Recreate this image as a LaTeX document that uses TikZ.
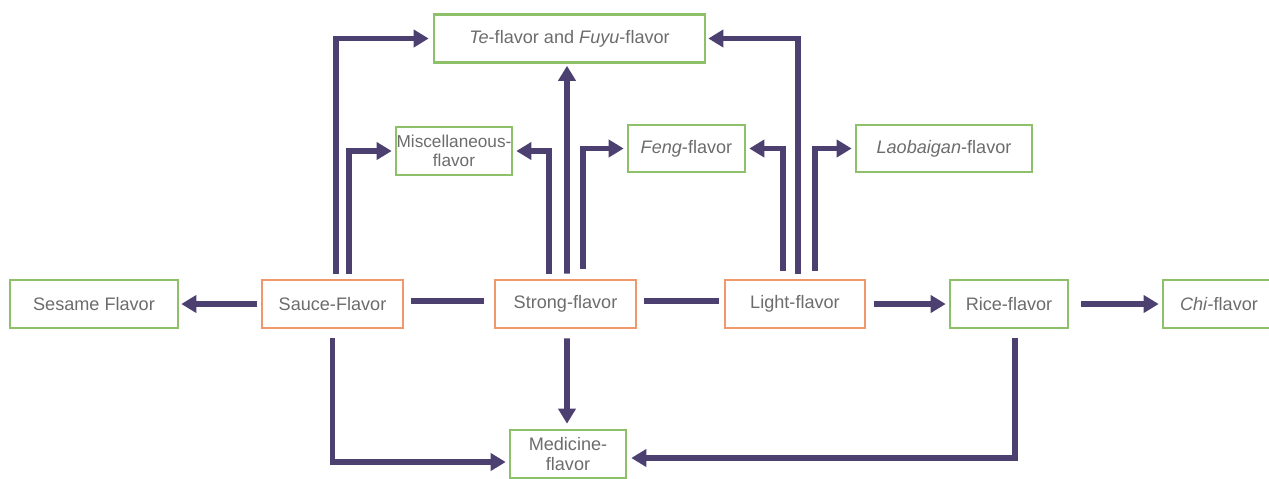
\documentclass[tikz,border=0pt]{standalone}
\usepackage{fontspec}
\setmainfont{Liberation Sans}
\usetikzlibrary{arrows.meta}
\definecolor{boxgreen}{RGB}{141,192,104}
\definecolor{boxorange}{RGB}{240,152,108}
\definecolor{flowpurple}{RGB}{76,64,112}
\definecolor{labelgray}{RGB}{108,108,108}

\begin{document}
\begin{tikzpicture}[x=0.02cm, y=-0.02cm,
    base/.style={draw, line width=1.5pt, text=labelgray, font=\fontsize{10.3}{11.3}\selectfont,
      align=center, minimum height=0.96cm, inner sep=0pt},
    main/.style={base, draw=boxorange},
    sub/.style={base, draw=boxgreen},
    flow/.style={draw=flowpurple, line width=3.2pt, -{Triangle[length=0.3cm, width=0.34cm]}},
    link/.style={draw=flowpurple, line width=3.2pt}]
  \useasboundingbox (0,0) rectangle (1269,478);
  % main flavors
  \node[main, minimum width=2.82cm] (sauce) at (332.5,304) {Sauce-Flavor};
  \node[main, minimum width=2.82cm] (strong) at (565.5,304) {Strong-flavor};
  \node[main, minimum width=2.8cm] (light) at (795,304) {Light-flavor};
  % derived flavors
  \node[sub, minimum width=3.36cm] (sesame) at (94,304) {Sesame Flavor};
  \node[sub, minimum width=2.36cm] (rice) at (1009,304) {Rice-flavor};
  \node[sub, minimum width=2.24cm] (chi) at (1219,304) {\textit{Chi}-flavor};
  \node[sub, minimum width=5.42cm] (te) at (569.5,38.5) {\textit{Te}-flavor and \textit{Fuyu}-flavor};
  \node[sub, minimum width=2.32cm, text width=2.32cm,
    font=\fontsize{9.8}{11}\selectfont] (misc) at (454,151) {Miscellaneous-\\flavor};
  \node[sub, minimum width=2.34cm, minimum height=0.94cm] (feng) at (686.5,148.5) {\textit{Feng}-flavor};
  \node[sub, minimum width=3.52cm, minimum height=0.94cm] (lao) at (944,148.5) {\textit{Laobaigan}-flavor};
  \node[sub, minimum width=2.32cm] (med) at (568,454) {Medicine-\\flavor};
  % row links
  \draw[flow, shorten <=0.08cm, shorten >=0.04cm] (sauce.west) -- (sesame.east);
  \draw[link, shorten <=0.14cm, shorten >=0.2cm] ([yshift=0.06cm]sauce.east) -- ([yshift=0.06cm]strong.west);
  \draw[link, shorten <=0.14cm, shorten >=0.1cm] ([yshift=0.06cm]strong.east) -- ([yshift=0.06cm]light.west);
  \draw[flow, shorten <=0.16cm, shorten >=0.06cm] (light.east) -- (rice.west);
  \draw[flow, shorten <=0.24cm, shorten >=0.06cm] (rice.east) -- (chi.west);
  % upwards
  \draw[flow] ([xshift=0.07cm, yshift=0.1cm]sauce.north) |- ([xshift=-0.08cm]te.west);
  \draw[flow] ([xshift=0.33cm, yshift=0.1cm]sauce.north) |- ([xshift=-0.06cm]misc.west);
  \draw[flow] ([xshift=-0.33cm, yshift=0.1cm]strong.north) |- ([xshift=0.06cm]misc.east);
  \draw[flow] ([xshift=0.03cm, yshift=0.1cm]strong.north) -- ([xshift=-0.05cm, yshift=-0.04cm]te.south);
  \draw[flow] ([xshift=0.35cm, yshift=0.2cm]strong.north) |- ([xshift=-0.06cm]feng.west);
  \draw[flow] ([xshift=-0.24cm, yshift=0.16cm]light.north) |- ([xshift=0.06cm]feng.east);
  \draw[flow] ([xshift=0.06cm, yshift=0.1cm]light.north) |- ([xshift=0.04cm]te.east);
  \draw[flow] ([xshift=0.4cm, yshift=0.16cm]light.north) |- ([xshift=-0.06cm]lao.west);
  % downwards
  \draw[flow] ([yshift=-0.18cm]sauce.south) |- ([xshift=-0.06cm, yshift=-0.16cm]med.west);
  \draw[flow] ([xshift=0.03cm, yshift=-0.18cm]strong.south) -- ([xshift=-0.02cm, yshift=0.1cm]med.north);
  \draw[flow] ([xshift=0.12cm, yshift=-0.18cm]rice.south) |- ([xshift=0.08cm, yshift=-0.08cm]med.east);
\end{tikzpicture}
\end{document}
